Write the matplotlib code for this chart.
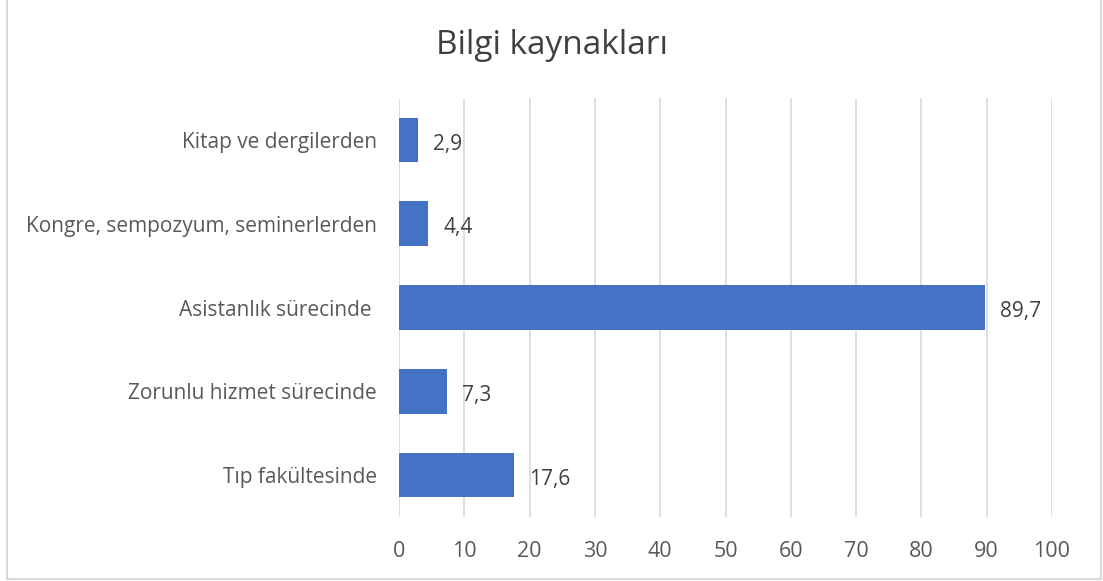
import matplotlib.pyplot as plt
from matplotlib.lines import Line2D

categories = ["Tıp fakültesinde", "Zorunlu hizmet sürecinde", "Asistanlık sürecinde ",
              "Kongre, sempozyum, seminerlerden", "Kitap ve dergilerden"]
values = [17.6, 7.3, 89.7, 4.4, 2.9]
value_labels = ["17,6", "7,3", "89,7", "4,4", "2,9"]
xticks = [0, 10, 20, 30, 40, 50, 60, 70, 80, 90, 100]

plt.rcParams['font.family'] = ['Open Sans', 'DejaVu Sans']

fig = plt.figure(figsize=(11.03, 5.81), dpi=100)
ax = fig.add_axes([399 / 1103, 1 - 517 / 581, 653 / 1103, 419 / 581])

ypos = range(len(categories))
ax.barh(ypos, values, height=0.53, color='#4472C4', zorder=3)
for y, v, lab in zip(ypos, values, value_labels):
    ax.annotate(lab, (v, y), xytext=(11, -3), textcoords='offset points',
                va='center', ha='left', fontsize=15, color='#404040')

ax.set_xlim(0, 100)
ax.set_ylim(-0.5, len(categories) - 0.5)
ax.set_xticks(xticks)
ax.set_yticks(list(ypos))
ax.set_yticklabels(categories, fontsize=15)
ax.tick_params(axis='both', length=0, labelcolor='#595959')
ax.tick_params(axis='x', labelsize=15.5, pad=17)
ax.tick_params(axis='y', pad=16)
ax.grid(axis='x', color='#d9d9d9', linewidth=1.2, zorder=0)
for s in ax.spines.values():
    s.set_visible(False)

fig.text(0.5, 1 - 45 / 581, "Bilgi kaynakları", ha='center', va='center',
         fontsize=24, color='#404040')

# outer chart border
bc = '#d9d9d9'
fig.add_artist(Line2D([6.5 / 1103, 6.5 / 1103], [2.5 / 581, 1], color=bc, lw=1.5))
fig.add_artist(Line2D([6.5 / 1103, 1100.5 / 1103], [2.5 / 581, 2.5 / 581], color=bc, lw=1.5))
fig.add_artist(Line2D([1100.5 / 1103, 1100.5 / 1103], [2.5 / 581, 1], color=bc, lw=1.5))

fig.savefig('out.png', dpi=100)
